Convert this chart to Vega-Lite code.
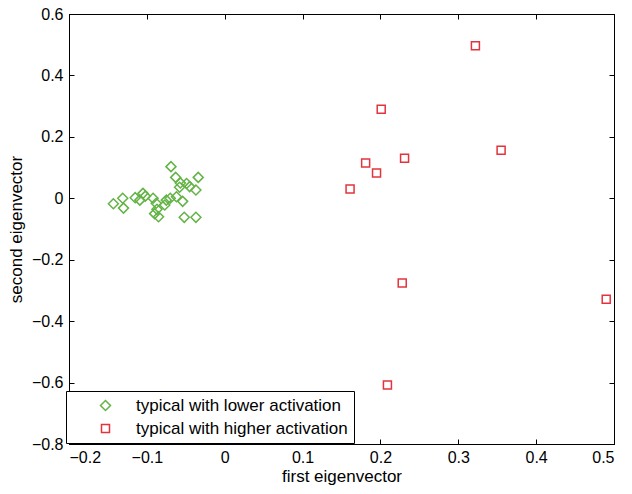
{
  "$schema": "https://vega.github.io/schema/vega-lite/v6.json",
  "width": 545,
  "height": 430,
  "autosize": "none",
  "padding": {"left": 69, "top": 14, "right": 18, "bottom": 50},
  "background": "white",
  "config": {
    "view": {"stroke": "black", "strokeWidth": 1},
    "font": "Liberation Sans",
    "axis": {
      "grid": false,
      "domainColor": "black",
      "tickColor": "black",
      "labelColor": "black",
      "titleColor": "black",
      "labelFontSize": 16,
      "titleFontSize": 17,
      "titleFontWeight": "normal",
      "labelFont": "Liberation Sans",
      "titleFont": "Liberation Sans"
    }
  },
  "data": {
    "values": [
      {"x": -0.143, "y": -0.018, "group": "typical with lower activation"},
      {"x": -0.131, "y": 0.000, "group": "typical with lower activation"},
      {"x": -0.130, "y": -0.032, "group": "typical with lower activation"},
      {"x": -0.115, "y": 0.002, "group": "typical with lower activation"},
      {"x": -0.105, "y": 0.016, "group": "typical with lower activation"},
      {"x": -0.102, "y": 0.007, "group": "typical with lower activation"},
      {"x": -0.109, "y": -0.006, "group": "typical with lower activation"},
      {"x": -0.092, "y": 0.000, "group": "typical with lower activation"},
      {"x": -0.088, "y": -0.016, "group": "typical with lower activation"},
      {"x": -0.087, "y": -0.036, "group": "typical with lower activation"},
      {"x": -0.090, "y": -0.050, "group": "typical with lower activation"},
      {"x": -0.085, "y": -0.060, "group": "typical with lower activation"},
      {"x": -0.075, "y": -0.006, "group": "typical with lower activation"},
      {"x": -0.070, "y": 0.000, "group": "typical with lower activation"},
      {"x": -0.077, "y": -0.022, "group": "typical with lower activation"},
      {"x": -0.062, "y": 0.005, "group": "typical with lower activation"},
      {"x": -0.054, "y": -0.010, "group": "typical with lower activation"},
      {"x": -0.052, "y": -0.062, "group": "typical with lower activation"},
      {"x": -0.037, "y": -0.062, "group": "typical with lower activation"},
      {"x": -0.069, "y": 0.103, "group": "typical with lower activation"},
      {"x": -0.063, "y": 0.068, "group": "typical with lower activation"},
      {"x": -0.034, "y": 0.068, "group": "typical with lower activation"},
      {"x": -0.057, "y": 0.050, "group": "typical with lower activation"},
      {"x": -0.049, "y": 0.048, "group": "typical with lower activation"},
      {"x": -0.045, "y": 0.038, "group": "typical with lower activation"},
      {"x": -0.037, "y": 0.027, "group": "typical with lower activation"},
      {"x": -0.058, "y": 0.036, "group": "typical with lower activation"},
      {"x": 0.322, "y": 0.497, "group": "typical with higher activation"},
      {"x": 0.201, "y": 0.290, "group": "typical with higher activation"},
      {"x": 0.355, "y": 0.156, "group": "typical with higher activation"},
      {"x": 0.181, "y": 0.115, "group": "typical with higher activation"},
      {"x": 0.231, "y": 0.130, "group": "typical with higher activation"},
      {"x": 0.195, "y": 0.082, "group": "typical with higher activation"},
      {"x": 0.161, "y": 0.030, "group": "typical with higher activation"},
      {"x": 0.228, "y": -0.276, "group": "typical with higher activation"},
      {"x": 0.490, "y": -0.329, "group": "typical with higher activation"},
      {"x": 0.209, "y": -0.608, "group": "typical with higher activation"}
    ]
  },
  "layer": [
    {
      "mark": {"type": "point", "filled": false, "strokeWidth": 1.5, "opacity": 1},
      "encoding": {
        "x": {
          "field": "x", "type": "quantitative",
          "scale": {"domain": [-0.2, 0.5], "nice": false, "zero": false},
          "axis": {
            "orient": "bottom",
            "title": "first eigenvector",
            "values": [-0.2, -0.1, 0, 0.1, 0.2, 0.3, 0.4, 0.5],
            "format": ".1~f",
            "tickSize": -5,
            "labelPadding": 10,
            "titlePadding": 3
          }
        },
        "y": {
          "field": "y", "type": "quantitative",
          "scale": {"domain": [-0.8, 0.6], "nice": false, "zero": false},
          "axis": {
            "orient": "left",
            "title": "second eigenvector",
            "values": [-0.8, -0.6, -0.4, -0.2, 0, 0.2, 0.4, 0.6],
            "format": ".1~f",
            "tickSize": -5,
            "labelPadding": 11,
            "titlePadding": 6
          }
        },
        "color": {
          "field": "group", "type": "nominal",
          "scale": {"domain": ["typical with lower activation", "typical with higher activation"], "range": ["#63b346", "#e2343c"]},
          "legend": {
            "title": null,
            "orient": "none",
            "legendX": -3,
            "legendY": 377,
            "fillColor": "white",
            "strokeColor": "black",
            "padding": 6,
            "symbolOffset": 25,
            "labelOffset": 22,
            "labelFontSize": 17,
            "labelColor": "black",
            "labelFont": "Liberation Sans",
            "rowPadding": 5,
            "symbolSize": 80,
            "symbolStrokeWidth": 1.5,
            "labelLimit": 400
          }
        },
        "shape": {
          "field": "group", "type": "nominal",
          "scale": {"domain": ["typical with lower activation", "typical with higher activation"], "range": ["diamond", "square"]}
        },
        "size": {
          "field": "group", "type": "nominal",
          "scale": {"domain": ["typical with lower activation", "typical with higher activation"], "range": [100, 64]},
          "legend": null
        }
      }
    },
    {
      "mark": {"type": "point", "opacity": 0},
      "encoding": {
        "x": {
          "field": "x", "type": "quantitative",
          "axis": {"orient": "top", "title": null, "labels": false, "values": [-0.2, -0.1, 0, 0.1, 0.2, 0.3, 0.4, 0.5], "tickSize": -5}
        },
        "y": {
          "field": "y", "type": "quantitative",
          "axis": {"orient": "right", "title": null, "labels": false, "values": [-0.8, -0.6, -0.4, -0.2, 0, 0.2, 0.4, 0.6], "tickSize": -5}
        }
      }
    }
  ],
  "resolve": {"axis": {"x": "independent", "y": "independent"}}
}
